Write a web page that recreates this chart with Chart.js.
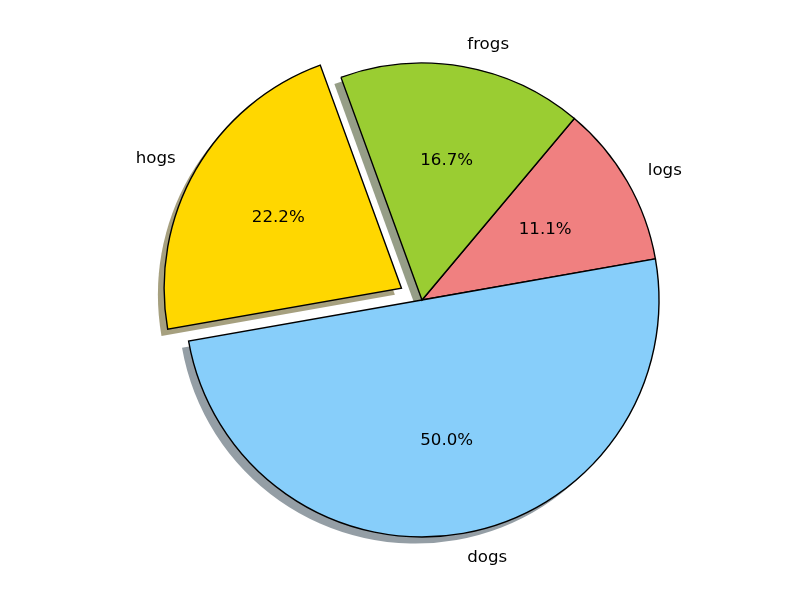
<!DOCTYPE html>
<html>
<head>
<meta charset="utf-8">
<script src="https://cdn.jsdelivr.net/npm/chart.js@4/dist/chart.umd.min.js"></script>
<style>
html,body{margin:0;padding:0;background:#fff;}
#wrap{width:800px;height:600px;}
</style>
</head>
<body>
<div id="wrap"><canvas id="c" width="800" height="600"></canvas></div>
<script>
// Data (drawn clockwise in Chart.js, so order is reversed from the counter-clockwise reference)
const labels = ['logs', 'dogs', 'hogs', 'frogs'];
const sizes = [10, 45, 20, 15];
const colors = ['#f08080', '#87cefa', '#ffd700', '#9acd32'];
const explode = [0, 0, 0.1, 0];

const R = 237;

function shadowColor(hex) {
  const n = parseInt(hex.slice(1), 16);
  const r = (n >> 16) & 255, g = (n >> 8) & 255, b = n & 255;
  return 'rgba(' + (0.3 * r) + ',' + (0.3 * g) + ',' + (0.3 * b) + ',0.5)';
}

const shadowPlugin = {
  id: 'shadows',
  beforeDatasetsDraw(chart) {
    const ctx = chart.ctx;
    const meta = chart.getDatasetMeta(0);
    const sh = 0.02 * R * 100 / 72;
    meta.data.forEach((arc, i) => {
      const p = arc.getProps(['x', 'y', 'startAngle', 'endAngle', 'outerRadius']);
      const mid = (p.startAngle + p.endAngle) / 2;
      const off = (arc.options.offset || 0) / 4;
      const cx = p.x + Math.cos(mid) * off - sh;
      const cy = p.y + Math.sin(mid) * off + sh;
      ctx.save();
      ctx.beginPath();
      ctx.moveTo(cx, cy);
      ctx.arc(cx, cy, p.outerRadius, p.startAngle, p.endAngle);
      ctx.closePath();
      ctx.fillStyle = shadowColor(colors[i]);
      ctx.fill();
      ctx.restore();
    });
  }
};

const labelPlugin = {
  id: 'pielabels',
  afterDatasetsDraw(chart) {
    const ctx = chart.ctx;
    const meta = chart.getDatasetMeta(0);
    const total = sizes.reduce((a, b) => a + b, 0);
    ctx.save();
    ctx.fillStyle = '#000';
    ctx.font = '16.67px "DejaVu Sans"';
    ctx.textBaseline = 'middle';
    meta.data.forEach((arc, i) => {
      const p = arc.getProps(['x', 'y', 'startAngle', 'endAngle', 'outerRadius']);
      const mid = (p.startAngle + p.endAngle) / 2;
      const off = (arc.options.offset || 0) / 4;
      const cx = p.x + Math.cos(mid) * off;
      const cy = p.y + Math.sin(mid) * off;
      const lx = cx + 1.1 * p.outerRadius * Math.cos(mid);
      const ly = cy + 1.1 * p.outerRadius * Math.sin(mid);
      ctx.textAlign = Math.cos(mid) > 0 ? 'left' : 'right';
      ctx.fillText(labels[i], lx, ly + 1);
      const px = cx + 0.6 * p.outerRadius * Math.cos(mid);
      const py = cy + 0.6 * p.outerRadius * Math.sin(mid);
      ctx.textAlign = 'center';
      ctx.fillText((sizes[i] / total * 100).toFixed(1) + '%', px, py + 1);
    });
    ctx.restore();
  }
};

new Chart(document.getElementById('c'), {
  type: 'pie',
  data: {
    labels: labels,
    datasets: [{
      data: sizes,
      backgroundColor: colors,
      borderColor: '#000',
      borderWidth: 1.4,
      borderJoinStyle: 'miter',
      offset: explode.map(e => e * R * 4),
      hoverOffset: 0
    }]
  },
  options: {
    responsive: false,
    animation: false,
    events: [],
    rotation: 40,
    radius: R,
    layout: { padding: { left: 44, right: 0, top: 0, bottom: 0 } },
    plugins: {
      legend: { display: false },
      tooltip: { enabled: false },
      title: { display: false }
    }
  },
  plugins: [shadowPlugin, labelPlugin]
});
</script>
</body>
</html>
